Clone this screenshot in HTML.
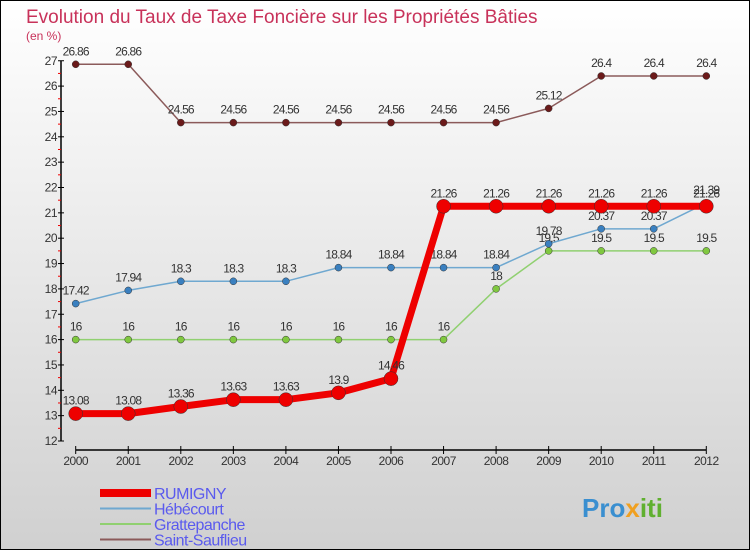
<!DOCTYPE html>
<html><head><meta charset="utf-8"><style>
html,body{margin:0;padding:0}
body{width:750px;height:550px;overflow:hidden;font-family:"Liberation Sans",sans-serif}
svg text{font-family:"Liberation Sans",sans-serif}
</style></head><body>
<svg id="c" width="750" height="550" xmlns="http://www.w3.org/2000/svg">
<defs><linearGradient id="bg" x1="0" y1="0" x2="0" y2="1"><stop offset="0" stop-color="#ffffff"/><stop offset="1" stop-color="#d0d0d0"/></linearGradient></defs>
<rect x="0.5" y="0.5" width="749" height="549" fill="url(#bg)" stroke="#000"/>
<text x="26" y="23" font-size="19" fill="#c8325a">Evolution du Taux de Taxe Foncière sur les Propriétés Bâties</text>
<text x="26" y="40" font-size="12" fill="#c8325a">(en %)</text>
<g id="axes"></g><g id="series"></g><g id="legend"></g>
<text x="582" y="517" font-size="26" font-weight="bold" fill="#3a8fd0">Pro<tspan fill="#f0a020">x</tspan><tspan fill="#60b030">iti</tspan></text>
</svg>
<script>
const years=[2000,2001,2002,2003,2004,2005,2006,2007,2008,2009,2010,2011,2012];
const yTicks=[12,13,14,15,16,17,18,19,20,21,22,23,24,25,26,27];
const rumigny=[13.08,13.08,13.36,13.63,13.63,13.9,14.46,21.26,21.26,21.26,21.26,21.26,21.26];
const hebecourt=[17.42,17.94,18.3,18.3,18.3,18.84,18.84,18.84,18.84,19.78,20.37,20.37,21.39];
const grattepanche=[16,16,16,16,16,16,16,16,18,19.5,19.5,19.5,19.5];
const saintSauflieu=[26.86,26.86,24.56,24.56,24.56,24.56,24.56,24.56,24.56,25.12,26.4,26.4,26.4];
const NS="http://www.w3.org/2000/svg";
const X=i=>75.7+i*52.55;
const Y=v=>441-(v-12)*25.35;
function mk(t,a,p){const e=document.createElementNS(NS,t);for(const k in a)e.setAttribute(k,a[k]);p.appendChild(e);return e;}
const ax=document.getElementById('axes');
let l=mk('line',{x1:61,y1:Y(27),x2:61,y2:Y(12),stroke:'#000','stroke-width':1.5},ax);

l=mk('line',{x1:75.7,y1:450,x2:X(12),y2:450,stroke:'#000','stroke-width':1.5},ax);

yTicks.forEach(v=>{
 mk('line',{x1:58,y1:Y(v),x2:64,y2:Y(v),stroke:'#000'},ax);
 if(v<27)mk('line',{x1:58,y1:Y(v+0.5),x2:61,y2:Y(v+0.5),stroke:'#e00'},ax);
 const t=mk('text',{x:57,y:Y(v)+4,'font-size':12,'text-anchor':'end',fill:'#333','letter-spacing':'-0.5'},ax);
 t.textContent=v;
 
});
years.forEach((y,i)=>{
 mk('line',{x1:X(i),y1:446,x2:X(i),y2:454,stroke:'#000'},ax);
 const t=mk('text',{x:X(i),y:465,'font-size':12,'text-anchor':'middle',fill:'#333','letter-spacing':'-0.5'},ax);
 t.textContent=y;
 
});
const sg=document.getElementById('series');
function draw(vals,color,dot,w,r,name){
 const g=mk('g',{},sg);
 
 mk('polyline',{points:vals.map((v,i)=>X(i)+','+Y(v)).join(' '),fill:'none',stroke:color,'stroke-width':w,'stroke-linejoin':'round'},g);
 vals.forEach((v,i)=>{
  const c=mk('circle',{cx:X(i),cy:Y(v),r:r,fill:dot,stroke:'#333','stroke-width':0.5},g);
  
  const t=mk('text',{x:X(i),y:Y(v)-9,'font-size':12,'text-anchor':'middle',fill:'#333','letter-spacing':'-0.8'},g);
  t.textContent=v;
  
 });
}
draw(saintSauflieu,'#8b5a5a','#6b1a1a',1.5,3.5,'saint-sauflieu-series');
draw(grattepanche,'#90d070','#80c840',1.5,3.5,'grattepanche-series');
draw(hebecourt,'#6fa8d0','#3a80c0',1.5,3.5,'hebecourt-series');
draw(rumigny,'#ee0000','#ee0000',7,7,'rumigny-series');
const lg=document.getElementById('legend');
[['RUMIGNY','#ee0000',8],['Hébécourt','#6fa8d0',2],['Grattepanche','#90d070',2],['Saint-Sauflieu','#8b5a5a',2]].forEach((d,i)=>{
 const y=493+i*15.5;
 const g=mk('g',{},lg);
 
 mk('line',{x1:100,y1:y,x2:151,y2:y,stroke:d[1],'stroke-width':d[2]},g);
 const t=mk('text',{x:154,y:y+6,'font-size':16,fill:'#5a5aee','letter-spacing':'-0.5'},g);
 t.textContent=d[0];
});
</script>
</body></html>
